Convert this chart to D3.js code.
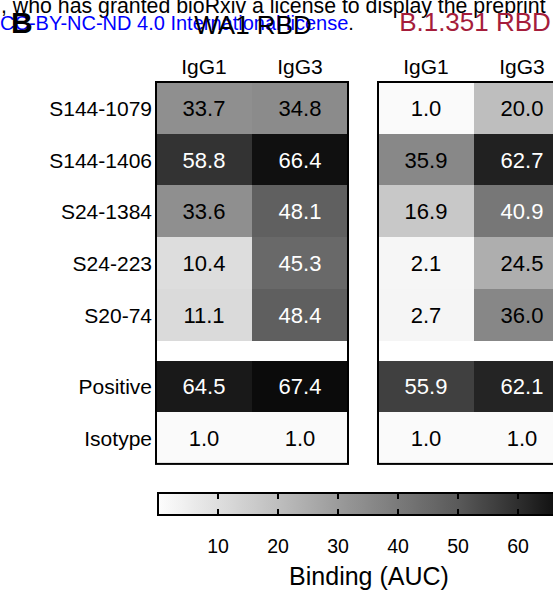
<!DOCTYPE html>
<html>
<head>
<meta charset="utf-8">
<script src="https://cdn.jsdelivr.net/npm/d3@7"></script>
<style>
  html, body { margin: 0; padding: 0; background: #fff; }
  svg { display: block; font-family: Arial, "Liberation Sans", sans-serif; }
</style>
</head>
<body>
<svg id="chart" width="553" height="592"></svg>
<script>
// Antibody clones (rows) and isotypes (columns)
const rowNames = ["S144-1079", "S144-1406", "S24-1384", "S24-223", "S20-74", "Positive", "Isotype"];
const isotypes = ["IgG1", "IgG3"];

// Binding (AUC) to WA1 RBD
const wa1IgG1 = [33.7, 58.8, 33.6, 10.4, 11.1, 64.5, 1.0];
const wa1IgG3 = [34.8, 66.4, 48.1, 45.3, 48.4, 67.4, 1.0];

// Binding (AUC) to B.1.351 RBD
const b1351IgG1 = [1.0, 35.9, 16.9, 2.1, 2.7, 55.9, 1.0];
const b1351IgG3 = [20.0, 62.7, 40.9, 24.5, 36.0, 62.1, 1.0];

// Colour-bar ticks
const colorTicks = [10, 20, 30, 40, 50, 60];

const svg = d3.select("#chart");

// Grey ramp: light for low binding, near-black for high binding
const greyAt = g => d3.rgb(g, g, g).formatHex();
const color = d3.scaleLinear()
  .domain([0, 10, 20, 30, 40, 50, 60, 68])
  .range([253, 222, 190, 155, 122, 90, 46, 8].map(greyAt))
  .clamp(true);

// Row positions: five clones, a spacer, then the two controls
const gridTop = 82, rowH = 51.7, gap = 20, groupSplit = 5;
const yIdx = d3.scaleLinear().domain([0, rowNames.length]).range([gridTop, gridTop + rowNames.length * rowH]);
const y = i => yIdx(i) + (i >= groupSplit ? gap : 0);
const gridBottom = y(rowNames.length);

// Watermark lines printed across the top of the figure
svg.append("text")
  .attr("x", 1).attr("y", 12.5)
  .attr("font-size", 21.3).attr("fill", "#000")
  .text(", who has granted bioRxiv a license to display the preprint");

const lic = svg.append("text")
  .attr("x", 0).attr("y", 30)
  .attr("font-size", 20);
lic.append("tspan").attr("fill", "#0000ff").text("CC-BY-NC-ND 4.0 International license");
lic.append("tspan").attr("fill", "#000").text(".");

svg.append("text")
  .attr("x", 11).attr("y", 33)
  .attr("font-size", 30).attr("font-weight", "bold").attr("fill", "#000")
  .text("B");

function panel(x0, x1, title, titleColor, titleY, seriesA, seriesB) {
  const x = d3.scaleBand().domain(isotypes).range([x0, x1]);
  const g = svg.append("g");

  g.append("text")
    .attr("x", (x0 + x1) / 2 + 1).attr("y", titleY)
    .attr("text-anchor", "middle")
    .attr("font-size", 26).attr("fill", titleColor)
    .text(title);

  g.selectAll("text.hdr").data(isotypes).join("text")
    .attr("class", "hdr")
    .attr("x", d => x(d) + x.bandwidth() / 2)
    .attr("y", 74)
    .attr("text-anchor", "middle")
    .attr("font-size", 21)
    .text(d => d);

  const cells = [];
  rowNames.forEach((r, i) => {
    cells.push({ row: i, iso: isotypes[0], v: seriesA[i] });
    cells.push({ row: i, iso: isotypes[1], v: seriesB[i] });
  });

  g.selectAll("rect.cell").data(cells).join("rect")
    .attr("class", "cell")
    .attr("x", d => x(d.iso))
    .attr("y", d => y(d.row))
    .attr("width", x.bandwidth())
    .attr("height", d => y(d.row + 1) - y(d.row) - (d.row + 1 === groupSplit ? gap : 0))
    .attr("fill", d => color(d.v))
    .attr("shape-rendering", "crispEdges");

  g.selectAll("text.val").data(cells).join("text")
    .attr("class", "val")
    .attr("x", d => x(d.iso) + x.bandwidth() / 2)
    .attr("y", d => y(d.row) + rowH / 2 + 8)
    .attr("text-anchor", "middle")
    .attr("font-size", 22)
    .attr("fill", d => d.v > 38 ? "#fff" : "#000")
    .text(d => d.v.toFixed(1));

  g.append("rect")
    .attr("x", x0).attr("y", gridTop)
    .attr("width", x1 - x0).attr("height", gridBottom - gridTop)
    .attr("fill", "none").attr("stroke", "#000").attr("stroke-width", 2);
}

// Row labels
svg.selectAll("text.rowlab").data(rowNames).join("text")
  .attr("class", "rowlab")
  .attr("x", 152)
  .attr("y", (d, i) => y(i) + rowH / 2 + 8)
  .attr("text-anchor", "end")
  .attr("font-size", 21)
  .text(d => d);

panel(156, 348, "WA1 RBD", "#000", 34, wa1IgG1, wa1IgG3);
panel(378, 570, "B.1.351 RBD", "#a51d3b", 31, b1351IgG1, b1351IgG3);

// Colour bar
const cb = d3.scaleLinear().domain([0, 70]).range([158, 578]);
const cbTop = 493, cbH = 22;
const grad = svg.append("defs").append("linearGradient")
  .attr("id", "cbgrad")
  .attr("gradientUnits", "userSpaceOnUse")
  .attr("x1", cb(0)).attr("x2", cb(70)).attr("y1", 0).attr("y2", 0);
d3.range(0, 71, 2).forEach(v => {
  grad.append("stop").attr("offset", v / 70).attr("stop-color", color(v));
});
svg.append("rect")
  .attr("x", cb(0)).attr("y", cbTop)
  .attr("width", cb(70) - cb(0)).attr("height", cbH)
  .attr("fill", "url(#cbgrad)")
  .attr("stroke", "#000").attr("stroke-width", 2);

const tickG = svg.append("g");
colorTicks.forEach(t => {
  tickG.append("line")
    .attr("x1", cb(t)).attr("x2", cb(t))
    .attr("y1", cbTop).attr("y2", cbTop + 6)
    .attr("stroke", "#000").attr("stroke-width", 2);
  tickG.append("line")
    .attr("x1", cb(t)).attr("x2", cb(t))
    .attr("y1", cbTop + cbH - 6).attr("y2", cbTop + cbH)
    .attr("stroke", "#000").attr("stroke-width", 2);
});
svg.selectAll("text.cbtick").data(colorTicks).join("text")
  .attr("class", "cbtick")
  .attr("x", d => cb(d))
  .attr("y", 553)
  .attr("text-anchor", "middle")
  .attr("font-size", 19.5)
  .text(d => d);

svg.append("text")
  .attr("x", 369).attr("y", 585)
  .attr("text-anchor", "middle")
  .attr("font-size", 25)
  .text("Binding (AUC)");
</script>
</body>
</html>
